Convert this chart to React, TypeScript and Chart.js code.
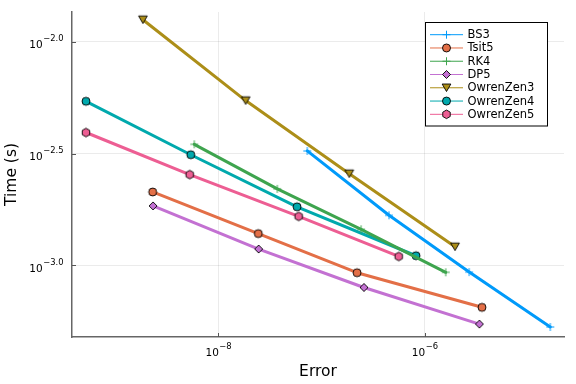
import React, { useEffect, useRef } from 'react';
import { Chart, registerables } from 'chart.js';

Chart.register(...registerables);

// ---- data ----
const seriesNames = ['BS3', 'Tsit5', 'RK4', 'DP5', 'OwrenZen3', 'OwrenZen4', 'OwrenZen5'];
const seriesColors = ['#009AFA', '#E36F47', '#3EA44E', '#C371D2', '#AC8E18', '#00A9AD', '#ED5E93'];
const seriesMarkers = ['cross', 'circle', 'cross', 'diamond', 'triangleDown', 'circle', 'hexagon'];

const bs3Error = [7.28e-8, 4.51e-7, 2.70e-6, 1.65e-5];
const bs3Time = [3.25e-3, 1.675e-3, 9.33e-4, 5.30e-4];
const tsit5Error = [2.31e-9, 2.44e-8, 2.21e-7, 3.59e-6];
const tsit5Time = [2.13e-3, 1.387e-3, 9.27e-4, 6.49e-4];
const rk4Error = [5.85e-9, 3.73e-8, 2.42e-7, 1.60e-6];
const rk4Time = [3.48e-3, 2.20e-3, 1.45e-3, 9.31e-4];
const dp5Error = [2.33e-9, 2.46e-8, 2.58e-7, 3.39e-6];
const dp5Time = [1.845e-3, 1.183e-3, 7.96e-4, 5.46e-4];
const owrenZen3Error = [1.86e-9, 1.84e-8, 1.86e-7, 1.97e-6];
const owrenZen3Time = [1.256e-2, 5.46e-3, 2.57e-3, 1.211e-3];
const owrenZen4Error = [5.22e-10, 5.41e-9, 5.79e-8, 8.24e-7];
const owrenZen4Time = [5.42e-3, 3.126e-3, 1.828e-3, 1.104e-3];
const owrenZen5Error = [5.22e-10, 5.28e-9, 6.01e-8, 5.60e-7];
const owrenZen5Time = [3.93e-3, 2.547e-3, 1.656e-3, 1.096e-3];

const seriesErrors = [bs3Error, tsit5Error, rk4Error, dp5Error, owrenZen3Error, owrenZen4Error, owrenZen5Error];
const seriesTimes = [bs3Time, tsit5Time, rk4Time, dp5Time, owrenZen3Time, owrenZen4Time, owrenZen5Time];

const xTickValues = [1e-8, 1e-6];
const xTickExponents = ['\u22128', '\u22126'];
const yTickValues = [1e-3, 0.0031622776601683794, 1e-2];
const yTickExponents = ['\u22123.0', '\u22122.5', '\u22122.0'];

const xMin = 3.82e-10;
const xMax = 2.24e-5;
const yMin = 4.78e-4;
const yMax = 1.36e-2;

const FONT = '"DejaVu Sans", sans-serif';

const markerRadius: Record<string, number> = {
  cross: 4,
  circle: 4,
  diamond: 4,
  triangleDown: 5,
  hexagon: 4.3,
};

function drawMarker(ctx: CanvasRenderingContext2D, kind: string, x: number, y: number, color: string) {
  const r = markerRadius[kind];
  ctx.save();
  ctx.lineWidth = 0.9;
  ctx.strokeStyle = '#000';
  ctx.fillStyle = color;
  ctx.beginPath();
  if (kind === 'cross') {
    ctx.strokeStyle = color;
    ctx.lineWidth = 1;
    ctx.moveTo(x - r, y);
    ctx.lineTo(x + r, y);
    ctx.moveTo(x, y - r);
    ctx.lineTo(x, y + r);
    ctx.stroke();
  } else if (kind === 'circle') {
    ctx.arc(x, y, r, 0, Math.PI * 2);
    ctx.fill();
    ctx.stroke();
  } else if (kind === 'diamond') {
    ctx.moveTo(x, y - r);
    ctx.lineTo(x + r, y);
    ctx.lineTo(x, y + r);
    ctx.lineTo(x - r, y);
    ctx.closePath();
    ctx.fill();
    ctx.stroke();
  } else if (kind === 'triangleDown') {
    const h = r * 1.5;
    ctx.moveTo(x - r * 0.87, y - h / 2);
    ctx.lineTo(x + r * 0.87, y - h / 2);
    ctx.lineTo(x, y + h / 2);
    ctx.closePath();
    ctx.fill();
    ctx.stroke();
  } else if (kind === 'hexagon') {
    for (let i = 0; i < 6; i++) {
      const a = Math.PI / 6 + (i * Math.PI) / 3;
      const px = x + r * Math.cos(a);
      const py = y + r * Math.sin(a);
      if (i === 0) ctx.moveTo(px, py);
      else ctx.lineTo(px, py);
    }
    ctx.closePath();
    ctx.fill();
    ctx.stroke();
  }
  ctx.restore();
}

function markerImage(kind: string, color: string): HTMLCanvasElement {
  const size = 14;
  const c = document.createElement('canvas');
  c.width = size;
  c.height = size;
  const ctx = c.getContext('2d')!;
  drawMarker(ctx, kind, size / 2, size / 2, color);
  return c;
}

const decorPlugin = {
  id: 'decor',
  afterDraw(chart: any) {
    const ctx: CanvasRenderingContext2D = chart.ctx;
    const area = chart.chartArea;
    const xs = chart.scales.x;
    const ys = chart.scales.y;
    ctx.save();

    // inner tick marks
    ctx.strokeStyle = '#555';
    ctx.lineWidth = 1;
    ctx.beginPath();
    xTickValues.forEach((v) => {
      const px = Math.round(xs.getPixelForValue(v)) + 0.5;
      ctx.moveTo(px, area.bottom);
      ctx.lineTo(px, area.bottom - 4);
    });
    yTickValues.forEach((v) => {
      const py = Math.round(ys.getPixelForValue(v)) + 0.5;
      ctx.moveTo(area.left, py);
      ctx.lineTo(area.left + 4, py);
    });
    ctx.stroke();

    // tick labels
    ctx.fillStyle = '#000';
    ctx.textBaseline = 'alphabetic';
    const baseFont = `10.5px ${FONT}`;
    const expFont = `8.4px ${FONT}`;
    xTickValues.forEach((v, i) => {
      const px = xs.getPixelForValue(v);
      ctx.font = baseFont;
      const bw = ctx.measureText('10').width;
      ctx.font = expFont;
      const ew = ctx.measureText(xTickExponents[i]).width;
      const start = px - (bw + ew) / 2;
      ctx.font = baseFont;
      ctx.textAlign = 'left';
      ctx.fillText('10', start, 355.5);
      ctx.font = expFont;
      ctx.fillText(xTickExponents[i], start + bw + 0.5, 348.5);
    });
    yTickValues.forEach((v, i) => {
      const py = ys.getPixelForValue(v);
      ctx.font = expFont;
      const ew = ctx.measureText(yTickExponents[i]).width;
      ctx.font = baseFont;
      const bw = ctx.measureText('10').width;
      const right = 63.5;
      ctx.textAlign = 'left';
      ctx.fillText('10', right - ew - bw - 0.5, py + 6.5);
      ctx.font = expFont;
      ctx.fillText(yTickExponents[i], right - ew, py - 0.5);
    });

    // axis titles
    ctx.font = `15.5px ${FONT}`;
    ctx.textAlign = 'center';
    ctx.textBaseline = 'middle';
    ctx.fillText('Error', (area.left + area.right) / 2, 371.5);
    ctx.save();
    ctx.translate(12, (area.top + area.bottom) / 2);
    ctx.rotate(-Math.PI / 2);
    ctx.fillText('Time (s)', 0, 0);
    ctx.restore();

    // legend
    const lx = 425.5;
    const ly = 22.5;
    const lw = 122;
    const lh = 103.5;
    ctx.fillStyle = '#fff';
    ctx.fillRect(lx, ly, lw, lh);
    ctx.strokeStyle = '#000';
    ctx.lineWidth = 1;
    ctx.strokeRect(lx, ly, lw, lh);
    ctx.font = `11.5px ${FONT}`;
    ctx.textAlign = 'left';
    ctx.textBaseline = 'middle';
    seriesNames.forEach((name, i) => {
      const cy = 34.7 + i * 13.27;
      ctx.strokeStyle = seriesColors[i];
      ctx.lineWidth = 1;
      ctx.beginPath();
      ctx.moveTo(430, cy);
      ctx.lineTo(463, cy);
      ctx.stroke();
      drawMarker(ctx, seriesMarkers[i], 446.5, cy, seriesColors[i]);
      ctx.fillStyle = '#000';
      ctx.fillText(name, 467.5, cy + 0.5);
    });

    ctx.restore();
  },
};

export default function App() {
  const canvasRef = useRef<HTMLCanvasElement | null>(null);

  useEffect(() => {
    const canvas = canvasRef.current;
    if (!canvas) return;
    const datasets = seriesNames.map((name, i) => ({
      label: name,
      data: seriesErrors[i].map((e, j) => ({ x: e, y: seriesTimes[i][j] })),
      borderColor: seriesColors[i],
      backgroundColor: seriesColors[i],
      borderWidth: 3,
      pointStyle: markerImage(seriesMarkers[i], seriesColors[i]) as any,
      pointRadius: 5,
      pointHoverRadius: 5,
      tension: 0,
      fill: false,
      showLine: true,
      borderJoinStyle: 'round' as const,
      borderCapStyle: 'round' as const,
    }));

    const chart = new Chart(canvas, {
      type: 'scatter',
      data: { datasets },
      options: {
        responsive: false,
        animation: false,
        devicePixelRatio: 1,
        layout: { padding: { left: 72, right: 12, top: 12, bottom: 47 } },
        plugins: { legend: { display: false }, tooltip: { enabled: false } },
        scales: {
          x: {
            type: 'logarithmic',
            min: xMin,
            max: xMax,
            afterBuildTicks: (scale: any) => {
              scale.ticks = xTickValues.map((v) => ({ value: v }));
            },
            ticks: { display: false },
            grid: { color: 'rgba(0,0,0,0.08)', lineWidth: 1, drawTicks: false, tickLength: 0 },
            border: { display: true, color: '#666', width: 1.5 },
            title: { display: false },
          },
          y: {
            type: 'logarithmic',
            min: yMin,
            max: yMax,
            afterBuildTicks: (scale: any) => {
              scale.ticks = yTickValues.map((v) => ({ value: v }));
            },
            ticks: { display: false },
            grid: { color: 'rgba(0,0,0,0.08)', lineWidth: 1, drawTicks: false, tickLength: 0 },
            border: { display: true, color: '#666', width: 1.5 },
            title: { display: false },
          },
        },
      },
      plugins: [decorPlugin],
    });
    return () => chart.destroy();
  }, []);

  return (
    <div style={{ position: 'fixed', left: 0, top: 0, width: 576, height: 384, background: '#fff' }}>
      <canvas ref={canvasRef} width={576} height={384} style={{ width: 576, height: 384, display: 'block' }} />
    </div>
  );
}
